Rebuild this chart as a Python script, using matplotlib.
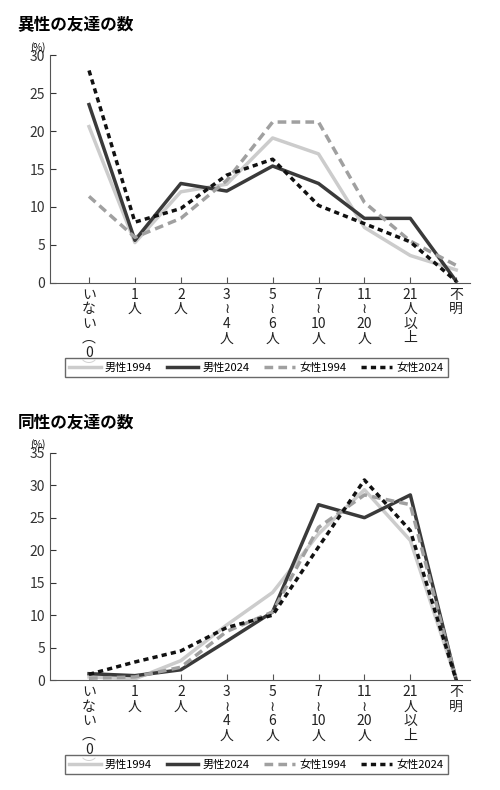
import matplotlib
matplotlib.use("Agg")
import matplotlib.pyplot as plt

plt.rcParams['font.family'] = ['Noto Sans CJK JP', 'DejaVu Sans']

categories = ["い\nな\nい\n︵\n0\n︶", "1\n人", "2\n人", "3\n≀\n4\n人", "5\n≀\n6\n人",
              "7\n≀\n10\n人", "11\n≀\n20\n人", "21\n人\n以\n上", "不\n明"]

# 異性の友達の数 (%)
hetero_m1994 = [20.6, 5.3, 12.0, 13.0, 19.1, 17.0, 7.3, 3.6, 1.7]
hetero_m2024 = [23.5, 5.6, 13.1, 12.1, 15.4, 13.1, 8.5, 8.5, 0.2]
hetero_f1994 = [11.4, 6.0, 8.5, 13.5, 21.2, 21.2, 10.6, 5.5, 2.3]
hetero_f2024 = [28.0, 8.0, 9.8, 14.2, 16.3, 10.2, 7.8, 5.4, 0.2]

# 同性の友達の数 (%)
homo_m1994 = [0.5, 0.2, 3.0, 8.5, 13.5, 22.5, 29.3, 21.5, 0.0]
homo_m2024 = [1.0, 0.7, 1.6, 6.0, 10.5, 27.0, 25.0, 28.5, 0.0]
homo_f1994 = [0.3, 0.5, 2.0, 7.5, 10.5, 23.5, 28.5, 27.0, 0.0]
homo_f2024 = [0.9, 2.8, 4.5, 8.1, 10.0, 20.5, 30.8, 23.0, 0.0]

series_labels = ["男性1994", "男性2024", "女性1994", "女性2024"]
styles = [dict(color="#cccccc", lw=2.5, ls="-"),
          dict(color="#3a3a3a", lw=2.5, ls="-"),
          dict(color="#a0a0a0", lw=2.5, ls=(0, (2.5, 1.5))),
          dict(color="#111111", lw=2.5, ls=(0, (1.5, 1.2)))]

fig = plt.figure(figsize=(5, 7.9), dpi=100)


def draw(rect, title, data, ymax, title_y, leg_y):
    ax = fig.add_axes(rect)
    x = range(len(categories))
    lines = []
    for vals, lab, st in zip(data, series_labels, styles):
        lines += ax.plot(x, vals, label=lab, **st)
    ax.set_xlim(-0.85, 8.3)
    ax.set_ylim(0, ymax)
    ax.set_yticks(range(0, ymax + 1, 5))
    ax.set_xticks(list(x))
    ax.set_xticklabels(categories, fontsize=10, linespacing=1.05, va="top")
    for s in ["top", "right"]:
        ax.spines[s].set_visible(False)
    for s in ["left", "bottom"]:
        ax.spines[s].set_color("#555555")
    ax.tick_params(axis="y", direction="in", length=4, labelsize=10, colors="#333333")
    ax.tick_params(axis="x", direction="in", length=4, colors="#555555", labelcolor="#222222")
    ax.text(-0.03, 1.02, "(%)", transform=ax.transAxes, fontsize=7, ha="center")
    fig.text(0.035, title_y, title, fontsize=12, fontweight="bold")
    fig.legend(handles=lines, loc="center", bbox_to_anchor=(0.513, leg_y), ncol=4, fontsize=8,
               frameon=True, fancybox=False, edgecolor="#444444",
               handlelength=2.8, columnspacing=1.3, handletextpad=0.4, borderpad=0.4)


draw([0.1, 0.642, 0.84, 0.288], "異性の友達の数",
     [hetero_m1994, hetero_m2024, hetero_f1994, hetero_f2024], 30, 0.962, 0.535)
draw([0.1, 0.139, 0.84, 0.288], "同性の友達の数",
     [homo_m1994, homo_m2024, homo_f1994, homo_f2024], 35, 0.459, 0.032)

fig.savefig("out.png", dpi=100)
